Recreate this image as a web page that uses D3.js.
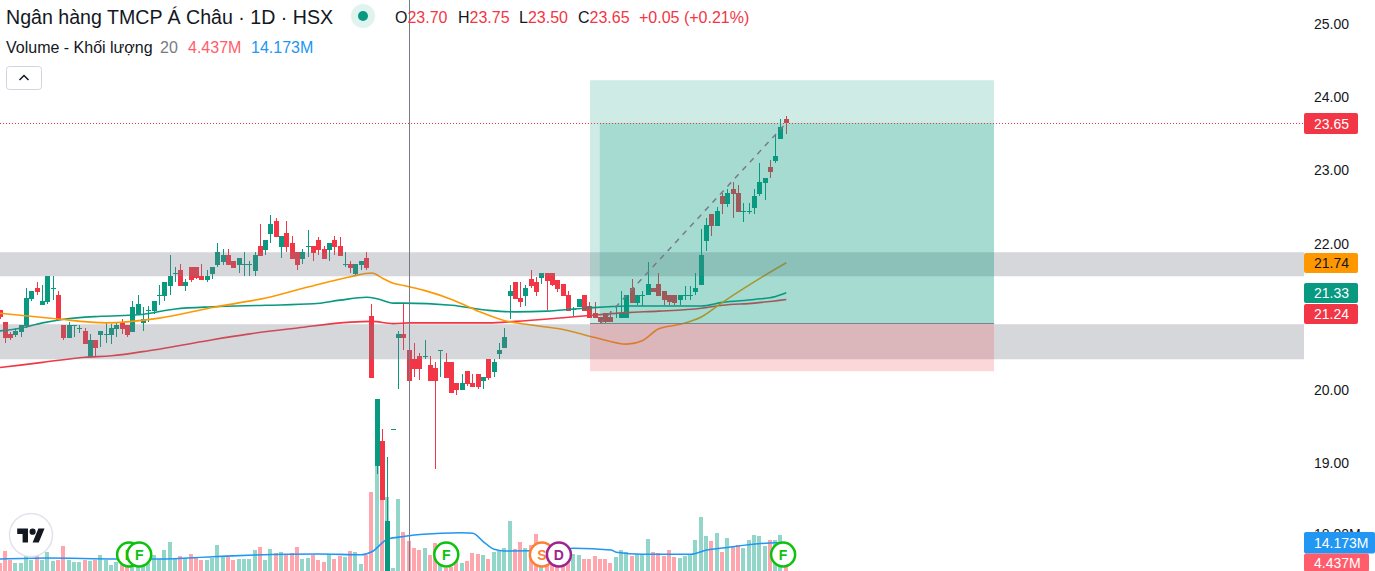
<!DOCTYPE html>
<html>
<head>
<meta charset="utf-8">
<script src="https://cdn.jsdelivr.net/npm/d3@7"></script>
<style>
html,body{margin:0;padding:0;background:#fff;overflow:hidden}
svg{display:block;font-family:"Liberation Sans",Arial,sans-serif}
</style>
</head>
<body>
<svg width="1375" height="571"></svg>
<script>
// giá nến
var opens = [21.10,20.93,20.77,20.75,20.80,20.88,21.25,21.40,21.16,21.20,
21.40,21.30,20.89,20.71,20.89,20.85,20.81,20.45,20.69,20.75,
20.77,20.75,20.84,20.93,20.89,20.80,21.04,20.92,21.10,21.08,
21.30,21.29,21.42,21.60,21.64,21.42,21.68,21.68,21.56,21.50,
21.59,21.71,21.75,21.85,21.76,21.71,21.72,21.72,21.63,21.97,
21.91,22.13,22.31,21.95,22.15,22.01,21.89,21.79,21.97,21.97,
22.05,21.93,21.91,22.05,21.97,21.72,21.72,21.59,21.71,21.80,
21.01,18.96,19.31,17.40,19.47,20.71,20.77,20.55,20.43,20.47,
20.47,20.34,20.30,20.55,20.38,20.38,20.10,20.00,20.26,20.10,
20.22,20.13,20.43,20.25,20.49,20.58,21.29,21.48,21.26,21.29,
21.52,21.48,21.53,21.60,21.60,21.50,21.45,21.30,21.10,21.14,
21.30,21.15,21.05,21.00,21.05,21.00,21.04,20.99,20.99,21.39,
21.19,21.30,21.30,21.39,21.45,21.35,21.30,21.30,21.23,21.30,
21.30,21.34,21.44,22.04,22.40,22.24,22.65,22.54,22.75,22.69,
22.45,22.45,22.49,22.68,22.83,23.05,23.13,23.43,23.70];
var highs = [21.10,20.93,20.80,20.85,20.89,21.40,21.35,21.48,21.44,21.56,
21.56,21.35,20.89,20.93,20.89,20.89,20.85,20.77,20.69,20.81,
20.93,20.90,20.93,20.97,20.89,21.22,21.30,21.14,21.15,21.22,
21.44,21.48,21.85,21.68,21.72,21.52,21.68,21.68,21.72,21.64,
21.68,22.01,21.93,21.93,21.76,21.80,21.89,21.76,21.89,22.27,
22.05,22.39,22.35,22.10,22.31,22.10,21.89,21.93,22.19,21.97,
22.09,21.97,22.01,22.10,22.09,21.89,21.76,21.72,21.76,21.89,
21.18,19.88,19.47,19.09,19.47,20.81,21.18,20.55,20.65,20.51,
20.69,20.47,20.38,20.55,20.51,20.38,20.10,20.22,20.26,20.22,
20.22,20.18,20.43,20.43,20.64,20.85,21.44,21.48,21.48,21.44,
21.64,21.54,21.60,21.60,21.60,21.50,21.45,21.35,21.14,21.24,
21.30,21.20,21.20,21.00,21.05,21.08,21.15,21.35,21.30,21.52,
21.30,21.35,21.75,21.39,21.60,21.35,21.30,21.30,21.30,21.43,
21.43,21.60,22.20,22.35,22.40,22.50,22.69,22.75,22.84,22.80,
22.55,22.55,22.75,23.10,22.90,23.14,23.50,23.70,23.75];
var lows = [20.97,20.65,20.69,20.73,20.73,20.85,21.22,21.30,21.16,21.18,
21.23,20.96,20.69,20.71,20.73,20.78,20.63,20.45,20.45,20.59,
20.65,20.63,20.73,20.77,20.73,20.80,21.04,20.81,20.93,21.04,
21.16,21.22,21.30,21.48,21.42,21.35,21.48,21.52,21.50,21.48,
21.52,21.68,21.71,21.71,21.67,21.60,21.56,21.56,21.56,21.83,
21.85,22.01,22.09,21.80,21.89,21.79,21.64,21.72,21.82,21.76,
21.85,21.79,21.76,21.85,21.83,21.68,21.60,21.56,21.64,21.64,
20.17,18.85,18.50,17.40,19.47,20.02,20.55,20.13,20.18,20.14,
20.43,20.13,18.93,20.18,20.17,19.96,19.94,20.00,20.06,20.04,
20.02,20.02,20.14,20.18,20.43,20.58,20.97,21.24,21.14,21.15,
21.39,21.29,21.45,21.10,21.43,21.34,21.29,21.08,21.01,21.14,
21.08,20.99,20.99,20.92,20.92,20.93,20.99,20.99,20.99,21.19,
21.16,21.15,21.30,21.34,21.29,21.16,21.16,21.16,21.16,21.23,
21.23,21.30,21.44,21.90,22.10,22.24,22.40,22.50,22.35,22.43,
22.30,22.40,22.40,22.65,22.60,22.90,23.10,23.43,23.50];
var closes = [21.00,20.71,20.71,20.81,20.89,21.26,21.35,21.34,21.22,21.56,
21.40,20.96,20.71,20.89,20.89,20.85,20.63,20.69,20.58,20.81,
20.77,20.85,20.89,20.84,20.75,21.14,21.18,20.97,21.10,21.22,
21.30,21.48,21.56,21.60,21.42,21.48,21.50,21.53,21.50,21.56,
21.68,21.89,21.85,21.71,21.67,21.80,21.72,21.72,21.85,21.83,
22.05,22.27,22.09,22.10,21.95,21.79,21.71,21.89,21.97,21.87,
21.91,21.79,22.01,21.95,21.83,21.72,21.67,21.72,21.76,21.67,
20.17,19.88,18.50,18.22,19.47,20.77,20.71,20.13,20.29,20.29,
20.47,20.13,20.13,20.55,20.17,19.96,20.00,20.10,20.09,20.04,
20.04,20.18,20.17,20.38,20.55,20.73,21.35,21.24,21.20,21.39,
21.42,21.34,21.60,21.49,21.44,21.38,21.29,21.08,21.11,21.24,
21.08,20.99,20.99,20.93,20.93,20.93,21.05,21.05,21.30,21.19,
21.30,21.30,21.45,21.34,21.29,21.23,21.20,21.19,21.30,21.30,
21.30,21.40,21.84,22.25,22.24,22.45,22.54,22.69,22.68,22.43,
22.45,22.45,22.65,22.84,22.90,22.98,23.20,23.59,23.65];
// khối lượng (triệu)
var volumes = [4.85,10.1,6.1,4.85,4.5,8.1,6.1,8.4,6.1,9.8,
5.75,6.1,12.6,6.1,5.15,5.15,6.1,5.6,6.1,8.4,
6.1,3.75,5.15,4.5,2.65,2.65,3.75,3.75,4.5,8.4,
6.4,10.75,14.5,6.4,7.95,7.0,8.9,7.0,6.1,6.1,
7.0,13.1,7.65,7.65,6.1,6.55,6.55,6.55,10.75,12.15,
6.1,11.2,9.35,9.8,8.9,9.2,12.15,6.55,7.0,8.4,
6.1,5.15,8.9,6.55,7.95,7.5,10.3,9.8,4.2,8.4,
37.9,57,45,35.5,2.3,34.5,19.3,15.0,11.8,10.75,
11.8,8.4,13.9,6.1,2.2,3.0,6.1,4.85,5.6,9.35,
8.9,8.4,6.55,10.0,10.45,11.7,24.3,11.2,14.5,11.7,
13.1,18.2,13.9,10.0,4.5,4.5,4.5,7.65,8.9,8.4,
6.55,6.55,7.95,6.55,6.55,4.7,7.5,10.75,9.8,7.95,
8.9,8.9,15.9,9.8,9.35,7.95,10.75,7.5,7.0,7.95,
8.4,15.4,26.2,17.3,15.0,18.7,9.8,16.4,12.6,13.1,
11.7,15.4,17.8,17.3,12.6,15.4,15.4,17.8,4.44];

// các đường trung bình: [chỉ số nến, giá trị]
var maOrangeIdx = [0,10,20,30,40,50,58,66,70,72,74,76,80,85,90,95,100,106,112,118,121,124,128,132,136,140,144,148];
var maOrangeVal = [21.05,20.98,20.92,20.985,21.13,21.26,21.41,21.55,21.60,21.53,21.46,21.43,21.36,21.24,21.08,20.95,20.89,20.83,20.72,20.63,20.68,20.84,20.90,21.00,21.20,21.39,21.57,21.74];
var maGreenIdx = [0,4,8,12,19,26,33,40,50,59,64,69,71,74,76,85,92,97,103,110,118,128,132,136,142,146,148];
var maGreenVal = [20.81,20.85,20.92,20.97,21.01,21.03,21.11,21.14,21.16,21.18,21.23,21.27,21.25,21.19,21.19,21.16,21.09,21.07,21.08,21.12,21.15,21.15,21.15,21.20,21.24,21.28,21.33];
var maRedIdx = [0,8,16,21,28,33,40,47,56,66,70,74,77,92,97,106,111,118,124,132,136,142,148];
var maRedVal = [20.31,20.38,20.45,20.47,20.54,20.60,20.69,20.77,20.85,20.93,20.94,20.91,20.92,20.92,20.94,20.99,21.02,21.06,21.08,21.12,21.16,21.19,21.24];
var volMaIdx = [0,9,22,30,40,48,60,68,70,73,76,79,87,89,91,93,95,104,108,115,116,121,130,133,136,146,148];
var volMaVal = [6.54,7.0,6.54,6.54,7.6,8.4,8.9,8.55,9.95,15.9,17.05,18.0,18.8,18.55,14.6,11.1,10.3,10.75,11.55,10.75,9.7,8.75,8.75,10.75,11.7,14.15,14.173];

var priceTicks = [25,24,23,22,20,19];
var volTicks = [18];
var bandZones = [[21.884,21.556],[20.901,20.423]];
var lastPrice = 23.65, entryPrice = 20.91, profitTop = 24.232, stopPrice = 20.26;
var crossIdx = 77;
var dividends = [{i:24.3,t:"F",c:"#0cc20c"},{i:26.2,t:"F",c:"#0cc20c"},{i:84,t:"F",c:"#0cc20c"},{i:102,t:"S",c:"#ff7f32"},{i:105.2,t:"D",c:"#a0228f"},{i:147.4,t:"F",c:"#0cc20c"}];

var up = "#089981", down = "#f23645";
var svg = d3.select("svg");
var plotRight = 1304;

var xScale = d3.scaleLinear().domain([0,148]).range([0,786.3]);
var yScale = d3.scaleLinear().domain([19,25]).range([463.5,24]);
var volScale = d3.scaleLinear().domain([0,18]).range([573,534.5]);
var px = i => Math.floor(xScale(i));
var bars = d3.range(opens.length);

// khối lượng nằm dưới cùng
svg.append("g").selectAll("rect")
    .data(bars)
    .enter()
    .append("rect")
    .attr("x",i=>px(i)-2)
    .attr("y",i=>Math.round(volScale(volumes[i])))
    .attr("width",4)
    .attr("height",i=>Math.max(1,Math.round(volScale(0)-volScale(volumes[i]))))
    .attr("fill",i=>closes[i]>=opens[i]?"#92d5c9":"#fea5ad")
    .attr("shape-rendering","crispEdges");

// đường TB khối lượng
svg.append("path")
    .attr("d",d3.line().x((d,k)=>xScale(volMaIdx[k])).y(d=>volScale(d)).curve(d3.curveMonotoneX)(volMaVal))
    .attr("fill","none").attr("stroke","#2196f3").attr("stroke-width",1.6);

// nến
var gs = svg.append("g").selectAll("g")
    .data(bars)
    .enter()
    .append("g")
    .attr("fill",i=>closes[i]>=opens[i]?up:down)
    .attr("shape-rendering","crispEdges");
gs.append("rect")
    .attr("x",i=>px(i))
    .attr("y",i=>Math.round(yScale(highs[i])))
    .attr("width",1)
    .attr("height",i=>Math.round(yScale(lows[i]))-Math.round(yScale(highs[i])));
gs.append("rect")
    .attr("x",i=>px(i)-2)
    .attr("y",i=>Math.round(yScale(Math.max(opens[i],closes[i]))))
    .attr("width",5)
    .attr("height",i=>Math.max(1,Math.round(yScale(Math.min(opens[i],closes[i])))-Math.round(yScale(Math.max(opens[i],closes[i])))));

// ba đường trung bình
var drawLine = (idx,val,color) => {
    svg.append("path")
        .attr("d",d3.line().x((d,k)=>xScale(idx[k])).y(d=>yScale(d)).curve(d3.curveMonotoneX)(val))
        .attr("fill","none").attr("stroke",color).attr("stroke-width",1.6);
};
drawLine(maRedIdx,maRedVal,down);
drawLine(maGreenIdx,maGreenVal,up);
drawLine(maOrangeIdx,maOrangeVal,"#ff9800");

// vùng xám
svg.append("g").selectAll("rect")
    .data(bandZones)
    .enter()
    .append("rect")
    .attr("x",0)
    .attr("width",plotRight)
    .attr("y",d=>yScale(d[0]))
    .attr("height",d=>yScale(d[1])-yScale(d[0]))
    .attr("fill","rgba(120,123,134,0.3)");

// vị thế mua
var posLeft = xScale(111.06), posLeft2 = xScale(112.9), posRight = xScale(187.1);
svg.append("rect").attr("x",posLeft).attr("y",yScale(profitTop)).attr("width",posRight-posLeft)
    .attr("height",yScale(entryPrice)-yScale(profitTop)).attr("fill","rgba(8,153,129,0.2)");
svg.append("rect").attr("x",posLeft2).attr("y",yScale(lastPrice)).attr("width",posRight-posLeft2)
    .attr("height",yScale(entryPrice)-yScale(lastPrice)).attr("fill","rgba(8,153,129,0.2)");
svg.append("rect").attr("x",posLeft).attr("y",yScale(entryPrice)).attr("width",posRight-posLeft)
    .attr("height",yScale(stopPrice)-yScale(entryPrice)).attr("fill","rgba(242,54,69,0.2)");
svg.append("line").attr("x1",posLeft).attr("x2",posRight).attr("y1",yScale(entryPrice)).attr("y2",yScale(entryPrice))
    .attr("stroke","#787b86").attr("stroke-width",1);
svg.append("line").attr("x1",xScale(113)).attr("y1",yScale(entryPrice)).attr("x2",xScale(148)).attr("y2",yScale(lastPrice))
    .attr("stroke","#787b86").attr("stroke-width",1.5).attr("stroke-dasharray","5.5,5.5");

// giá cuối và crosshair
svg.append("line").attr("x1",0).attr("x2",plotRight).attr("y1",123.5).attr("y2",123.5)
    .attr("stroke",down).attr("stroke-width",1).attr("stroke-dasharray","1,2");
svg.append("line").attr("x1",px(crossIdx)+0.5).attr("x2",px(crossIdx)+0.5).attr("y1",0).attr("y2",571)
    .attr("stroke","#787b86").attr("stroke-width",1);

// trục giá
var yAxisG = svg.append("g")
    .attr("transform","translate("+plotRight+",0)")
    .call(d3.axisRight(yScale).tickValues(priceTicks).tickSize(0).tickPadding(10).tickFormat(d3.format(".2f")));
var volAxisG = svg.append("g")
    .attr("transform","translate("+plotRight+",0)")
    .call(d3.axisRight(volScale).tickValues(volTicks).tickSize(0).tickPadding(10).tickFormat(d=>d3.format(".2f")(d)+"M"));
svg.selectAll(".domain").remove();
svg.selectAll(".tick text").attr("font-family","Liberation Sans").attr("font-size",14).attr("fill","#131722");

// nhãn giá bên phải
var tagLabels = ["23.65","21.74","21.33","21.24","14.173M","4.437M"];
var tagTops = [113,253,283,304,532,553.5];
var tagHeights = [21,20,20,20,21.5,18];
var tagWidths = [54,54,54,54,71,65];
var tagFills = [down,"#ff9800",up,down,"#2196f3","#ff5d6c"];
var tagText = ["#fff","#131722","#fff","#fff","#fff","#fff"];
var tags = svg.append("g").selectAll("g").data(tagLabels).enter().append("g");
tags.append("rect")
    .attr("x",plotRight)
    .attr("y",(d,i)=>tagTops[i])
    .attr("width",(d,i)=>tagWidths[i])
    .attr("height",(d,i)=>tagHeights[i])
    .attr("rx",2)
    .attr("fill",(d,i)=>tagFills[i]);
tags.append("text")
    .attr("x",plotRight+10)
    .attr("y",(d,i)=>tagTops[i]+tagHeights[i]/2+5)
    .attr("font-size",14)
    .attr("fill",(d,i)=>tagText[i])
    .text(d=>d);

// vòng sự kiện F, S, D
var evs = svg.append("g").selectAll("g").data(dividends).enter().append("g")
    .attr("transform",d=>"translate("+xScale(d.i)+",554.5)");
evs.append("circle").attr("r",12).attr("fill","#fff").attr("stroke",d=>d.c).attr("stroke-width",2.5);
evs.append("text").attr("text-anchor","middle").attr("y",5).attr("font-size",14).attr("font-weight","bold")
    .attr("fill",d=>d.c).text(d=>d.t);

// logo
svg.append("circle").attr("cx",31).attr("cy",535).attr("r",21.5).attr("fill","#fff").attr("stroke","#e0e3eb").attr("stroke-width",1.5);
var logo = svg.append("g").attr("transform","translate(17.2,525.5) scale(0.77)").attr("fill","#131722");
logo.append("path").attr("d","M14 22H7V11H0V4h14v18zM28 22h-8l7.5-18h8L28 22z");
logo.append("circle").attr("cx",20).attr("cy",8).attr("r",4);

// phần chú thích trên cùng
var title = svg.append("text").attr("x",6).attr("y",24).attr("font-size",19.6).attr("fill","#131722").text("Ngân hàng TMCP Á Châu · 1D · HSX");
svg.append("circle").attr("cx",363).attr("cy",16).attr("r",12).attr("fill","#dff3ef");
svg.append("circle").attr("cx",363).attr("cy",16).attr("r",5).attr("fill",up);

var ohlcLabels = ["O","H","L","C"];
var ohlcValues = ["23.70","23.75","23.50","23.65"];
var ohlcX = [395,458,519,578];
ohlcLabels.forEach((l,k)=>{
    var t = svg.append("text").attr("x",ohlcX[k]).attr("y",23).attr("font-size",16);
    t.append("tspan").attr("fill","#131722").text(l);
    t.append("tspan").attr("fill",down).text(ohlcValues[k]);
});
svg.append("text").attr("x",639).attr("y",23).attr("font-size",16).attr("fill",down).text("+0.05 (+0.21%)");

svg.append("text").attr("x",6).attr("y",53).attr("font-size",16).attr("fill","#131722").text("Volume - Khối lượng");
svg.append("text").attr("x",160).attr("y",53).attr("font-size",16).attr("fill","#787b86").text("20");
svg.append("text").attr("x",188).attr("y",53).attr("font-size",16).attr("fill","#ff5d6c").text("4.437M");
svg.append("text").attr("x",251).attr("y",53).attr("font-size",16).attr("fill","#2196f3").text("14.173M");

svg.append("rect").attr("x",6.5).attr("y",66.5).attr("width",35).attr("height",23).attr("rx",3).attr("fill","#fff").attr("stroke","#d1d4dc");
svg.append("path").attr("d","M19.5 80L24 75.5L28.5 80").attr("fill","none").attr("stroke","#131722").attr("stroke-width",1.5);
</script>
</body>
</html>
